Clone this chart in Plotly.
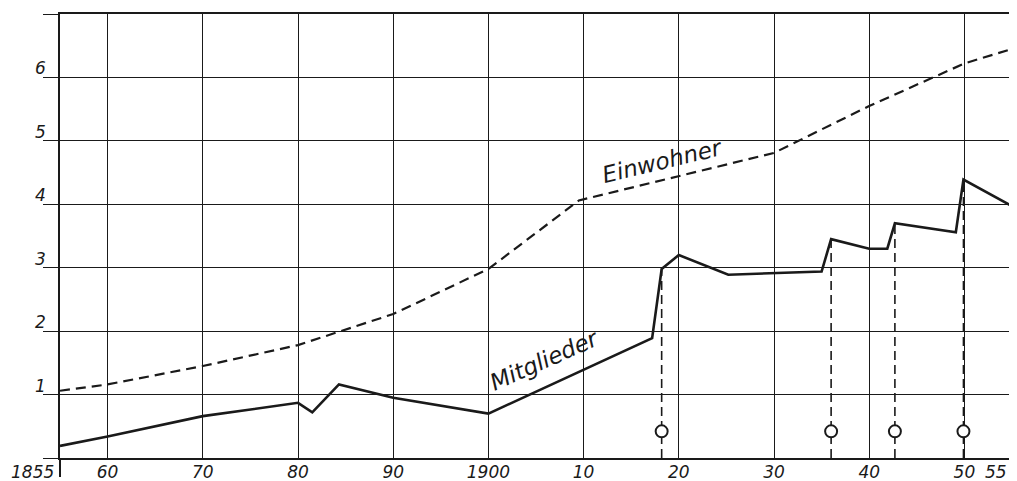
import plotly.graph_objects as go

# ---- data ----
einw_years = [1855, 1860, 1870, 1880, 1890, 1900, 1909.5, 1930, 1940, 1950, 1955]
einw_vals = [1.06, 1.16, 1.45, 1.78, 2.27, 2.98, 4.06, 4.81, 5.55, 6.22, 6.45]

jump_years = [1918.2, 1936.0, 1942.7, 1949.9]
jump_peaks = [2.98, 3.45, 3.70, 4.39]

mitg_years = [1855, 1860, 1870, 1880, 1881.5, 1884.3, 1890, 1900, 1917.2,
              jump_years[0], 1920, 1925.2, 1935, jump_years[1], 1940, 1941.9,
              jump_years[2], 1949.1, jump_years[3], 1955]
mitg_vals = [0.19, 0.34, 0.66, 0.87, 0.72, 1.16, 0.95, 0.70, 1.89,
             jump_peaks[0], 3.20, 2.89, 2.94, jump_peaks[1], 3.30, 3.30,
             jump_peaks[2], 3.56, jump_peaks[3], 3.97]

marker_level = 0.42

x_range = [1855, 1955]
x_range_labels = ["1855", "55"]
x_tickvals = [1860, 1870, 1880, 1890, 1900, 1910, 1920, 1930, 1940, 1950]
x_ticktext = ["60", "70", "80", "90", "1900", "10", "20", "30", "40", "50"]
y_tickvals = [0, 1, 2, 3, 4, 5, 6, 7]
y_ticktext = ["", "1", "2", "3", "4", "5", "6", ""]

label_einw = "Einwohner"
label_mitg = "Mitglieder"

INK = "#1a1a1a"
FONT = dict(family="DejaVu Sans", size=17, color=INK, style="italic")

fig = go.Figure()

# dashed drop lines from jumps to the axis
for xv, pk in zip(jump_years, jump_peaks):
    fig.add_trace(go.Scatter(x=[xv, xv], y=[0, pk], mode="lines",
                             line=dict(color=INK, width=1.6, dash="9px,5px"),
                             hoverinfo="skip", showlegend=False))

fig.add_trace(go.Scatter(x=einw_years, y=einw_vals, mode="lines", name=label_einw,
                         line=dict(color=INK, width=2.2, dash="10px,6px"), showlegend=False))
fig.add_trace(go.Scatter(x=mitg_years, y=mitg_vals, mode="lines", name=label_mitg,
                         line=dict(color=INK, width=2.6), showlegend=False))

fig.add_trace(go.Scatter(x=jump_years, y=[marker_level] * len(jump_years), mode="markers",
                         marker=dict(symbol="circle", size=12, color="white",
                                     line=dict(color=INK, width=2)),
                         showlegend=False))

fig.add_annotation(x=1918.3, y=4.68, text=label_einw, showarrow=False, textangle=-13.5,
                   font=dict(family="DejaVu Sans", size=23, color=INK, style="italic"))
fig.add_annotation(x=1905.9, y=1.55, text=label_mitg, showarrow=False, textangle=-24,
                   font=dict(family="DejaVu Sans", size=23, color=INK, style="italic"))

# end-of-range year labels (left one sits left of the frame, right one just inside the edge)
fig.add_annotation(x=x_range[0], y=0, yref="y", text=x_range_labels[0], showarrow=False,
                   xanchor="right", yanchor="top", xshift=-4, yshift=-2, font=FONT)
fig.add_annotation(x=x_range[1], y=0, yref="y", text=x_range_labels[1], showarrow=False,
                   xanchor="right", yanchor="top", xshift=-3, yshift=-2, font=FONT)

# page body has an 8px default margin, so the figure is 8px smaller than the window
fig.update_layout(
    width=1009, height=473,
    margin=dict(l=52, r=5, t=6, b=23, autoexpand=False),
    paper_bgcolor="white", plot_bgcolor="white",
    font=FONT,
    showlegend=False,
)
fig.update_xaxes(range=x_range, tickmode="array", tickvals=x_tickvals, ticktext=x_ticktext,
                 showgrid=True, gridcolor=INK, gridwidth=1.3, zeroline=False,
                 showline=True, mirror=True, linecolor=INK, linewidth=1.5,
                 ticks="", tickfont=FONT, tickangle=0, automargin=False, ticklabelstandoff=-2,
                 minor=dict(tickmode="array", tickvals=[x_range[0]], ticks="outside", ticklen=17,
                            tickwidth=1.5, tickcolor=INK, showgrid=False))
fig.update_yaxes(range=[0, 7], tickmode="array", tickvals=y_tickvals, ticktext=y_ticktext,
                 showgrid=True, gridcolor=INK, gridwidth=1.3, zeroline=False,
                 showline=True, mirror=True, linecolor=INK, linewidth=1.5,
                 ticks="outside", ticklen=15, tickwidth=1.3, tickcolor=INK,
                 tickfont=FONT, ticklabelshift=-9, ticklabelstandoff=-6, automargin=False)

fig.write_html("out.html")
